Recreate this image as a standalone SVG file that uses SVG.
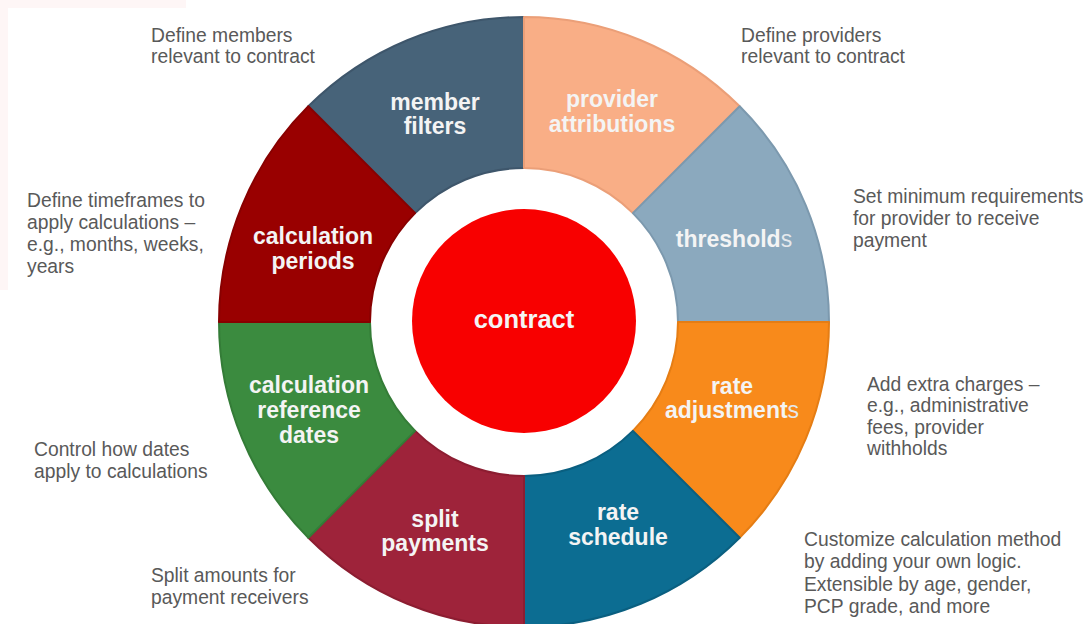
<svg xmlns="http://www.w3.org/2000/svg" width="1087" height="624" viewBox="0 0 1087 624">
  <style>
    .seg { stroke-width: 2; stroke-linejoin: round; }
    .lbl { font-family: "Liberation Sans", Arial, sans-serif; font-weight: bold; font-size: 23px; fill: #f4f4f4; text-anchor: middle; }
    .lite { font-weight: normal; fill: #e4e8ec; }
    .desc { font-family: "Liberation Sans", Arial, sans-serif; font-size: 19.3px; fill: #595959; }
  </style>
  <rect x="0" y="0" width="1087" height="624" fill="#ffffff"/>
  <path d="M0 0 H186 V8 H8 V290 H0 Z" fill="#fef6f6"/>

  <g id="ring">
    <g id="member-filters">
      <path class="seg" d="M308.33 106.33 A305 305 0 0 1 524 17 L524 168 A154 154 0 0 0 415.11 213.11 Z" fill="#476379" stroke="#3e566b"/>
      <text class="lbl" x="435" y="110">member</text>
      <text class="lbl" x="435" y="134">filters</text>
    </g>
    <g id="provider-attributions">
      <path class="seg" d="M524 17 A305 305 0 0 1 739.67 106.33 L632.89 213.11 A154 154 0 0 0 524 168 Z" fill="#f9ae86" stroke="#eb9f78"/>
      <text class="lbl" x="612" y="107">provider</text>
      <text class="lbl" x="612" y="132">attributions</text>
    </g>
    <g id="thresholds">
      <path class="seg" d="M739.67 106.33 A305 305 0 0 1 829 322 L678 322 A154 154 0 0 0 632.89 213.11 Z" fill="#8ba9be" stroke="#7c99ae"/>
      <text class="lbl" x="734" y="247">threshold<tspan class="lite">s</tspan></text>
    </g>
    <g id="rate-adjustments">
      <path class="seg" d="M829 322 A305 305 0 0 1 739.67 537.67 L632.89 430.89 A154 154 0 0 0 678 322 Z" fill="#f88a1b" stroke="#e57d14"/>
      <text class="lbl" x="732" y="394">rate</text>
      <text class="lbl" x="732" y="418">adjustment<tspan class="lite">s</tspan></text>
    </g>
    <g id="rate-schedule">
      <path class="seg" d="M739.67 537.67 A305 305 0 0 1 524 627 L524 476 A154 154 0 0 0 632.89 430.89 Z" fill="#0c6d92" stroke="#0a5f80"/>
      <text class="lbl" x="618" y="520">rate</text>
      <text class="lbl" x="618" y="545">schedule</text>
    </g>
    <g id="split-payments">
      <path class="seg" d="M524 627 A305 305 0 0 1 308.33 537.67 L415.11 430.89 A154 154 0 0 0 524 476 Z" fill="#9e233a" stroke="#8c1d31"/>
      <text class="lbl" x="435" y="527">split</text>
      <text class="lbl" x="435" y="551">payments</text>
    </g>
    <g id="calculation-reference-dates">
      <path class="seg" d="M308.33 537.67 A305 305 0 0 1 219 322 L370 322 A154 154 0 0 0 415.11 430.89 Z" fill="#3b8b3f" stroke="#347c37"/>
      <text class="lbl" x="309" y="393">calculation</text>
      <text class="lbl" x="309" y="418">reference</text>
      <text class="lbl" x="309" y="443">dates</text>
    </g>
    <g id="calculation-periods">
      <path class="seg" d="M219 322 A305 305 0 0 1 308.33 106.33 L415.11 213.11 A154 154 0 0 0 370 322 Z" fill="#990000" stroke="#880000"/>
      <text class="lbl" x="313" y="244">calculation</text>
      <text class="lbl" x="313" y="269">periods</text>
    </g>
  </g>

  <g id="contract">
    <circle cx="524" cy="321" r="112" fill="#f80000"/>
    <text class="lbl" x="524" y="328" style="font-size:25.5px">contract</text>
  </g>

  <g id="descriptions">
    <text class="desc" x="151" y="42"><tspan x="151">Define members</tspan><tspan x="151" dy="21">relevant to contract</tspan></text>
    <text class="desc" x="741" y="42"><tspan x="741">Define providers</tspan><tspan x="741" dy="21">relevant to contract</tspan></text>
    <text class="desc" x="27" y="207"><tspan x="27">Define timeframes to</tspan><tspan x="27" dy="22">apply calculations –</tspan><tspan x="27" dy="22">e.g., months, weeks,</tspan><tspan x="27" dy="22">years</tspan></text>
    <text class="desc" x="853" y="203"><tspan x="853">Set minimum requirements</tspan><tspan x="853" dy="22">for provider to receive</tspan><tspan x="853" dy="22">payment</tspan></text>
    <text class="desc" x="867" y="391"><tspan x="867">Add extra charges –</tspan><tspan x="867" dy="21.3">e.g., administrative</tspan><tspan x="867" dy="21.3">fees, provider</tspan><tspan x="867" dy="21.3">withholds</tspan></text>
    <text class="desc" x="34" y="456"><tspan x="34">Control how dates</tspan><tspan x="34" dy="21.5">apply to calculations</tspan></text>
    <text class="desc" x="151" y="582"><tspan x="151">Split amounts for</tspan><tspan x="151" dy="21.5">payment receivers</tspan></text>
    <text class="desc" x="804" y="546"><tspan x="804">Customize calculation method</tspan><tspan x="804" dy="22.4">by adding your own logic.</tspan><tspan x="804" dy="22.4">Extensible by age, gender,</tspan><tspan x="804" dy="22.4">PCP grade, and more</tspan></text>
  </g>
</svg>
